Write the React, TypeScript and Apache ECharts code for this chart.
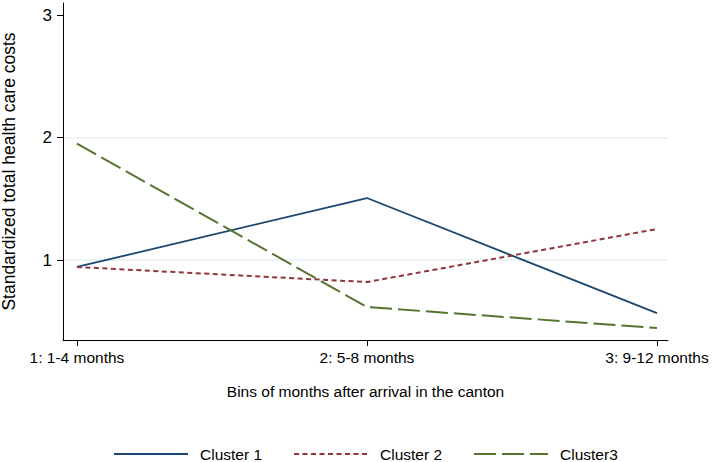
import React, { useEffect, useRef } from "react";
import * as echarts from "echarts";

const categories = ["1: 1-4 months", "2: 5-8 months", "3: 9-12 months"];
const xPositions = [1, 2, 3];
const cluster1 = [0.943, 1.506, 0.567];
const cluster2 = [0.943, 0.82, 1.253];
const cluster3 = [1.95, 0.616, 0.445];
const yTicks = [1, 2, 3];
const gridValues = [1, 2];
const seriesNames = ["Cluster 1", "Cluster 2", "Cluster3"];

const FONT = "'Liberation Sans', Arial, sans-serif";

export default function App() {
  const ref = useRef<HTMLDivElement>(null);
  useEffect(() => {
    if (!ref.current) return;
    const chart = echarts.init(ref.current, undefined, { renderer: "svg" });
    const pair = (vals: number[]) => vals.map((v, i) => [xPositions[i], v]);
    chart.setOption({
      animation: false,
      backgroundColor: "#ffffff",
      textStyle: { fontFamily: FONT },
      grid: { left: 63, right: 44, top: 3, bottom: 122, containLabel: false, outerBoundsMode: "none" },
      legend: {
        left: 113,
        top: 446,
        padding: 0,
        itemWidth: 74,
        itemHeight: 14,
        itemGap: 31,
        itemStyle: { opacity: 0 },
        textStyle: { fontSize: 15.5, color: "#000", fontFamily: FONT, padding: [0, 0, 0, 7] },
        data: seriesNames,
      },
      xAxis: {
        type: "value",
        min: 0.952,
        max: 3.038,
        name: "Bins of months after arrival in the canton",
        nameLocation: "middle",
        nameGap: 43,
        nameTextStyle: { fontSize: 15.5, color: "#000", fontFamily: FONT },
        axisLine: { show: true, lineStyle: { color: "#000", width: 1 } },
        axisTick: { show: true, length: 6, customValues: xPositions, lineStyle: { color: "#000" } },
        axisLabel: {
          customValues: xPositions,
          fontSize: 15.5,
          color: "#000",
          margin: 9,
          fontFamily: FONT,
          formatter: (v: number) => categories[xPositions.indexOf(Math.round(v))] ?? "",
        },
        splitLine: { show: false },
      },
      yAxis: {
        type: "value",
        min: 0.347,
        max: 3.098,
        name: "Standardized total health care costs",
        nameLocation: "middle",
        nameGap: 45,
        nameTextStyle: { fontSize: 17.5, color: "#000", fontFamily: FONT },
        axisLine: { show: true, lineStyle: { color: "#000", width: 1 } },
        axisTick: { show: true, length: 6, customValues: yTicks, lineStyle: { color: "#000" } },
        axisLabel: { customValues: yTicks, fontSize: 17, color: "#000", margin: 11, fontFamily: FONT },
        splitLine: { show: false },
      },
      series: [
        {
          name: seriesNames[0],
          type: "line",
          data: pair(cluster1),
          showSymbol: false,
          symbol: "none",
          color: "#1a476f",
          lineStyle: { color: "#1a476f", width: 1.8, type: "solid" },
          markLine: {
            silent: true,
            symbol: "none",
            label: { show: false },
            lineStyle: { color: "#e6eff2", width: 1.5, type: "solid" },
            data: gridValues.map((v) => ({ yAxis: v })),
            z: 0,
          },
          z: 3,
        },
        {
          name: seriesNames[1],
          type: "line",
          data: pair(cluster2),
          showSymbol: false,
          symbol: "none",
          color: "#90353b",
          lineStyle: { color: "#90353b", width: 2, type: [5, 3.5] },
          z: 3,
        },
        {
          name: seriesNames[2],
          type: "line",
          data: pair(cluster3),
          showSymbol: false,
          symbol: "none",
          color: "#55752f",
          lineStyle: { color: "#55752f", width: 2, type: [22, 6] },
          z: 3,
        },
      ],
    });
    return () => chart.dispose();
  }, []);
  return <div ref={ref} style={{ width: 712, height: 462, position: "absolute", left: 0, top: 0 }} />;
}
